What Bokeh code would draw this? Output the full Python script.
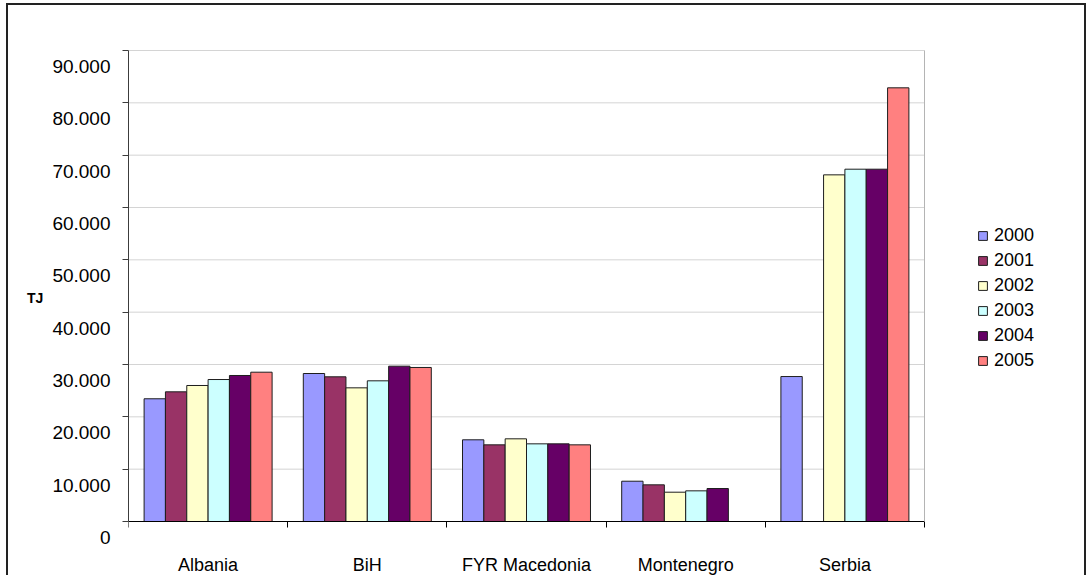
import numpy as np
from bokeh.plotting import figure
from bokeh.models import (ColumnDataSource, Range1d, LinearAxis,
                          FixedTicker, CustomJSTickFormatter, Legend, LegendItem, Grid)
from bokeh.transform import dodge
from bokeh.embed import file_html
from bokeh.resources import INLINE

# ---- data ----
countries = ["Albania", "BiH", "FYR Macedonia", "Montenegro", "Serbia"]
years = ["2000", "2001", "2002", "2003", "2004", "2005"]
v2000 = [23450, 28280, 15610, 7700, 27700]
v2001 = [24780, 27650, 14650, 7010, np.nan]
v2002 = [25990, 25540, 15800, 5600, 66240]
v2003 = [27130, 26880, 14840, 5860, 67320]
v2004 = [27900, 29680, 14840, 6300, 67320]
v2005 = [28530, 29430, 14650, np.nan, 82870]
y_ticks = [0, 10000, 20000, 30000, 40000, 50000, 60000, 70000, 80000, 90000]
y_tick_labels = ["0", "10.000", "20.000", "30.000", "40.000", "50.000",
                 "60.000", "70.000", "80.000", "90.000"]
y_title = "TJ"
colors = ["#9999FF", "#993366", "#FFFFCC", "#CCFFFF", "#660066", "#FF8080"]

FONT = "Liberation Sans"
series = [v2000, v2001, v2002, v2003, v2004, v2005]
n_groups = len(countries)
centers = [i + 0.5 for i in range(n_groups)]
boundaries = list(range(n_groups + 1))
src = ColumnDataSource(dict(country=countries, xc=centers,
                            **{y: s for y, s in zip(years, series)}))
grid_src = ColumnDataSource(dict(y=y_ticks, x0=[boundaries[0]] * len(y_ticks),
                                 x1=[boundaries[-1]] * len(y_ticks)))

# ---- layout (pixels) ----
W, H = 1080, 572
left_px, top_px, bottom_px = 120, 44, 32
plot_w_px, plot_h_px = 796, 471          # data area size
pad_top_px, ext_px, shift_px = 1, 24, 16  # frame padding / label shift
frame_w_px = W - left_px
y_span = y_ticks[-1] - y_ticks[0]
u_per_px = y_span / plot_h_px
y_start = y_ticks[0] - ext_px * u_per_px
y_end = y_ticks[-1] + pad_top_px * u_per_px
x_end = frame_w_px * n_groups / plot_w_px

p = figure(width=W, height=H,
           x_range=Range1d(0, x_end),
           y_range=Range1d(y_start, y_end),
           output_backend="svg", toolbar_location=None,
           x_axis_location=None, y_axis_location=None,
           min_border_left=left_px, min_border_top=top_px, min_border_bottom=bottom_px,
           min_border_right=0)
p.center = [r for r in p.center if not isinstance(r, Grid)]
p.extra_y_ranges = {"lab": Range1d(y_start + shift_px * u_per_px,
                                   y_end + shift_px * u_per_px)}
p.background_fill_color = "white"
p.border_fill_color = "white"
p.outline_line_color = None
p.styles = {"border-top": "2px solid #222222", "border-left": "2px solid #222222",
            "border-right": "2px solid #222222", "margin-top": "3px", "margin-left": "6px"}

# horizontal gridlines across the plot area only
p.segment(x0="x0", x1="x1", y0="y", y1="y", source=grid_src,
          line_color="#D4D4D4", line_width=1)

empty = CustomJSTickFormatter(code="return ''")

ya = LinearAxis(ticker=FixedTicker(ticks=y_ticks), formatter=empty,
                bounds=(y_ticks[0], y_ticks[-1]),
                major_tick_out=6, major_tick_in=0, minor_tick_out=0, minor_tick_in=0,
                major_label_standoff=0, axis_line_color="#3C3C3C",
                major_tick_line_color="#3C3C3C", minor_tick_line_color=None)
yl = LinearAxis(y_range_name="lab", ticker=FixedTicker(ticks=y_ticks),
                major_label_overrides={t: s for t, s in zip(y_ticks, y_tick_labels)},
                axis_line_color=None, major_tick_line_color=None, minor_tick_line_color=None,
                major_tick_out=0, major_tick_in=0, minor_tick_out=0, minor_tick_in=0,
                major_label_standoff=12, major_label_text_font=FONT,
                major_label_text_font_size="19px", major_label_text_color="black",
                axis_label=y_title, axis_label_orientation="horizontal",
                axis_label_standoff=6, axis_label_text_font=FONT,
                axis_label_text_font_style="bold", axis_label_text_font_size="14px",
                axis_label_text_color="black")
p.add_layout(ya, "left")
p.add_layout(yl, "left")

# right edge of the plot area (grey)
yr_edge = LinearAxis(ticker=FixedTicker(ticks=[]), formatter=empty,
                     bounds=(y_ticks[0], y_ticks[-1]), fixed_location=boundaries[-1],
                     major_tick_out=0, major_tick_in=0, minor_tick_out=0, minor_tick_in=0,
                     axis_line_color="#B4B4B4", major_tick_line_color=None,
                     minor_tick_line_color=None)
p.add_layout(yr_edge, "right")

xt = LinearAxis(ticker=FixedTicker(ticks=boundaries), formatter=empty, fixed_location=0,
                bounds=(boundaries[0], boundaries[-1]),
                major_tick_out=6, major_tick_in=0, minor_tick_out=0, minor_tick_in=0,
                major_label_standoff=0, axis_line_color="black",
                major_tick_line_color="black", minor_tick_line_color=None)
xc = LinearAxis(ticker=FixedTicker(ticks=centers),
                major_label_overrides={c: s for c, s in zip(centers, countries)},
                axis_line_color=None, major_tick_line_color=None, minor_tick_line_color=None,
                major_tick_out=0, major_tick_in=0, minor_tick_out=0, minor_tick_in=0,
                major_label_standoff=9,
                major_label_text_font=FONT, major_label_text_font_size="18px",
                major_label_text_color="black")
p.add_layout(xt, "below")
p.add_layout(xc, "below")

bar_w = 0.134
items = []
for j, (yr, col) in enumerate(zip(years, colors)):
    off = (j - (len(years) - 1) / 2) * bar_w
    r = p.vbar(x=dodge("xc", off), top=yr, width=bar_w, bottom=0,
               source=src, fill_color=col, line_color="#1E1E1E", line_width=1)
    items.append(LegendItem(label=yr, renderers=[r]))

legend = Legend(items=items, location=(849, 174), border_line_color=None,
                background_fill_alpha=0, glyph_width=11, glyph_height=11,
                label_height=21, spacing=4, padding=0, margin=0, label_standoff=6,
                label_text_font=FONT, label_text_font_size="18px",
                label_text_color="black")
p.add_layout(legend, "center")

open("out.html", "w").write(file_html(p, INLINE))
